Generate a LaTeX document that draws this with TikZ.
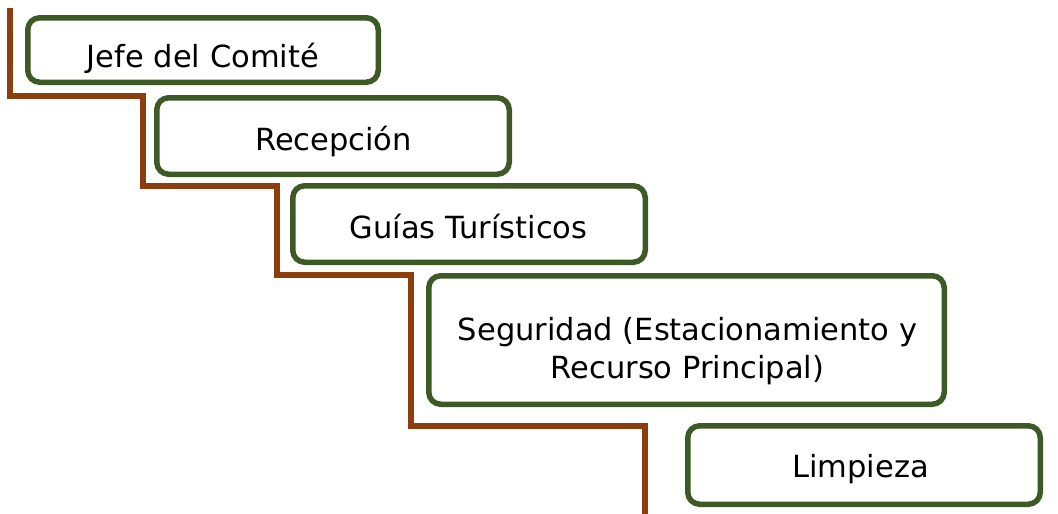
\documentclass[tikz,border=0pt]{standalone}
\usepackage{fontspec}
\setmainfont{DejaVu Sans}
\definecolor{boxgreen}{RGB}{61,89,38}
\definecolor{stairbrown}{RGB}{140,62,15}
\tikzset{
  stepbox/.style={draw=boxgreen, line width=5.5pt, rounded corners=12pt, fill=white, inner sep=0pt},
  steptext/.style={anchor=base, inner sep=0pt, font=\fontsize{30.5}{38}\selectfont, align=center},
  stair/.style={draw=stairbrown, line width=6pt, miter limit=4}
}
\begin{document}
\begin{tikzpicture}[x=1pt,y=-1pt]
\useasboundingbox (0,0) rectangle (1058,514);
% staircase line
\coordinate (s0) at (9.5,8);
\coordinate (s1) at (9.5,95.5);
\coordinate (s2) at (143,95.5);
\coordinate (s3) at (143,185.5);
\coordinate (s4) at (277,185.5);
\coordinate (s5) at (277,274.5);
\coordinate (s6) at (410.5,274.5);
\coordinate (s7) at (410.5,426);
\coordinate (s8) at (645,426);
\coordinate (s9) at (645,514);
\draw[stair] (s0) -- (s1) -- (s2) -- (s3) -- (s4) -- (s5) -- (s6) -- (s7) -- (s8) -- (s9);
% boxes
\node[stepbox, minimum width=350.5pt, minimum height=64.5pt] (b1) at (203,50) {};
\node[stepbox, minimum width=352.5pt, minimum height=76.5pt] (b2) at (333,136) {};
\node[stepbox, minimum width=352.5pt, minimum height=76.5pt] (b3) at (469,224) {};
\node[stepbox, minimum width=515.5pt, minimum height=128.5pt] (b4) at (686.5,340) {};
\node[stepbox, minimum width=352.5pt, minimum height=78.5pt] (b5) at (864,465) {};
% texts
\node[steptext] (t1) at (203,67) {Jefe del Comité};
\node[steptext] (t2) at (333.5,150) {Recepción};
\node[steptext] (t3) at (468.5,238) {Guías Turísticos};
\node[steptext] (t4) at (687.5,378) {Seguridad (Estacionamiento y\\Recurso Principal)};
\node[steptext] (t5) at (860.5,477) {Limpieza};
\end{tikzpicture}
\end{document}
